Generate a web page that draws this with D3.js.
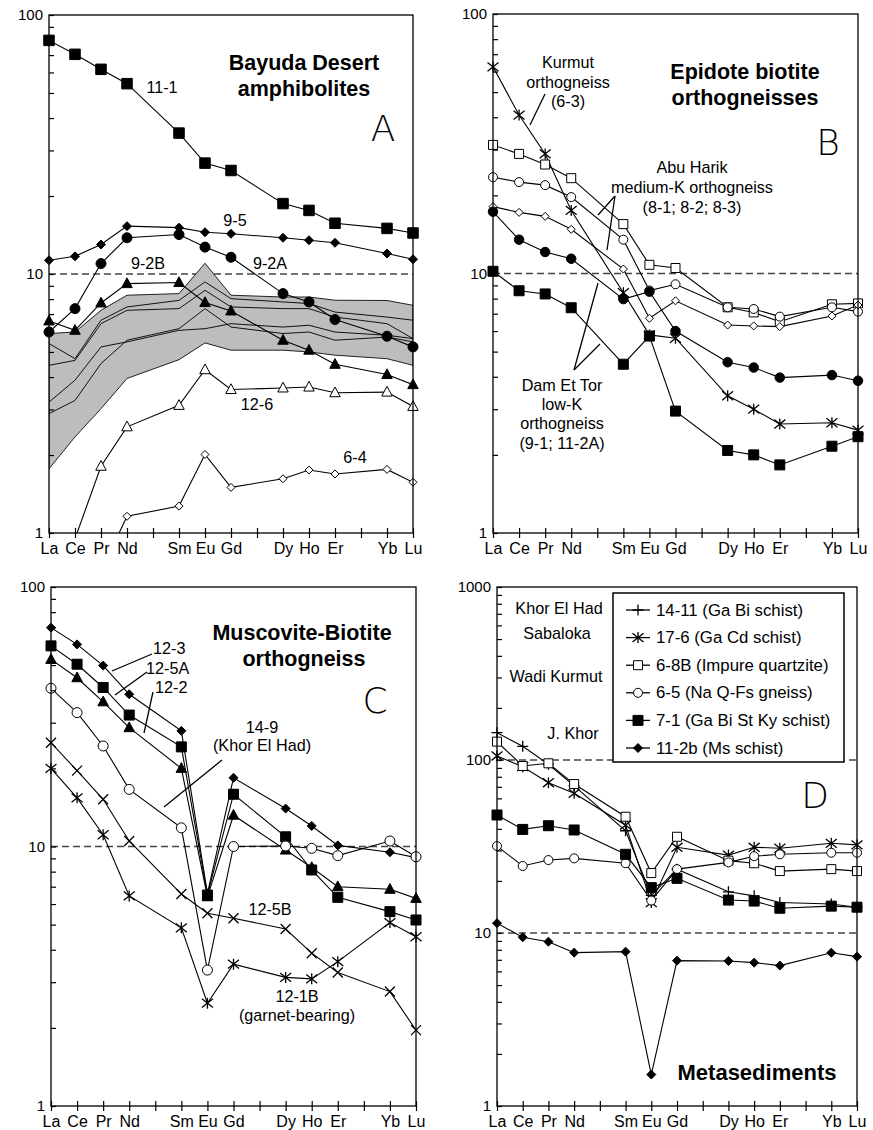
<!DOCTYPE html>
<html><head><meta charset="utf-8">
<script src="https://cdn.jsdelivr.net/npm/d3@7"></script>
<style>body{margin:0;background:#fff}svg{display:block}</style>
</head><body>
<script>
// ---------- DATA ----------
const ELEMENTS = ["La","Ce","Pr","Nd","Sm","Eu","Gd","Dy","Ho","Er","Yb","Lu"];
const ELEMENT_POS = [0,1,2,3,5,6,7,9,10,11,13,14];

// Panel A : Bayuda Desert amphibolites
const A_11_1 = [79.8,70.5,61.7,54.3,35.0,26.8,25.1,18.7,17.6,15.7,15.0,14.4];
const A_9_5  = [11.3,11.7,13.0,15.3,15.1,14.5,14.3,13.8,13.5,13.2,12.0,11.4];
const A_9_2A = [5.97,7.35,10.97,13.8,14.2,12.7,11.6,8.4,7.8,6.67,5.75,5.23];
const A_9_2B = [6.59,6.06,7.73,9.18,9.27,7.76,7.2,5.55,5.08,4.48,4.09,3.74];
const A_12_6 = [null,0.95,1.81,2.57,3.11,4.27,3.58,3.63,3.66,3.48,3.5,3.08];
const A_6_4  = [null,null,0.71,1.16,1.27,2.01,1.50,1.62,1.75,1.69,1.76,1.57];
const A_BAND_UPPER = [5.89,5.97,7.24,8.28,8.4,11.0,8.28,8.15,8.15,7.92,7.9,7.57];
const A_BAND_LOWER = [1.77,2.35,3.02,3.95,4.67,5.42,5.08,5.08,5.0,4.86,4.71,4.44];
const A_BAND_L1 = [5.39,4.71,6.63,7.46,7.91,9.32,8.03,7.8,7.69,7.13,6.82,6.63];
const A_BAND_L2 = [4.44,4.64,6.43,7.24,7.35,8.65,7.46,7.35,7.35,6.82,6.43,5.63];
const A_BAND_L3 = [3.2,3.89,5.23,5.47,6.06,6.15,6.43,6.24,6.34,5.97,5.8,5.63];
const A_BAND_L4 = [2.89,3.25,4.51,5.55,6.15,7.35,6.24,5.89,5.97,5.55,5.71,5.47];

// Panel B : Epidote biotite orthogneisses
const B_6_3    = [62.6,40.8,28.9,17.5,8.43,5.8,5.63,3.38,3.0,2.63,2.66,2.49];
const B_8_SQ   = [31.3,28.9,26.3,23.3,15.5,10.8,10.5,7.41,7.08,6.52,7.61,7.67];
const B_8_CI   = [23.5,22.5,21.9,19.7,13.5,8.6,9.09,7.41,7.3,6.82,7.41,7.13];
const B_8_DI   = [18.1,17.2,16.6,14.8,10.4,6.72,7.85,6.33,6.28,6.24,6.86,7.56];
const B_9_1    = [17.3,13.5,12.1,11.4,7.97,8.51,6.0,4.55,4.34,3.97,4.06,3.86];
const B_11_2A  = [10.2,8.58,8.34,7.38,4.47,5.74,2.95,2.08,2.0,1.83,2.16,2.35];

// Panel C : Muscovite-Biotite orthogneiss
const C_12_3  = [69.7,60.1,49.8,38.6,27.9,6.6,18.4,14.0,12.0,10.1,9.5,9.06];
const C_12_5A = [59.3,50.4,41.0,32.1,24.2,6.5,15.9,10.9,8.12,6.37,5.61,5.21];
const C_12_2  = [52.6,44.7,36.1,28.7,20.0,6.4,13.2,9.69,8.3,7.0,6.84,6.31];
const C_14_9  = [40.7,32.8,24.4,16.6,11.8,3.34,10.0,10.05,9.84,9.22,10.5,9.13];
const C_12_5B = [25.1,19.6,15.2,10.5,6.56,5.53,5.29,4.81,3.88,3.27,2.76,1.96];
const C_12_1B = [20.0,15.4,11.1,6.45,4.86,2.49,3.52,3.13,3.09,3.6,5.09,4.49];

// Panel D : Metasediments
const D_14_11 = [143.8,120.0,94.5,70.8,39.0,16.5,23.4,17.3,16.4,15.0,14.7,14.1];
const D_17_6  = [105.5,91.5,73.9,64.2,42.0,15.0,31.3,28.2,31.3,30.9,33.0,32.3];
const D_6_8B  = [127.7,92.3,95.7,72.6,47.0,22.2,36.0,26.2,25.3,22.8,23.4,22.8];
const D_6_5   = [31.8,24.4,26.4,27.0,25.3,15.4,23.4,25.6,27.8,28.5,29.1,29.1];
const D_7_1   = [48.1,39.7,41.7,39.4,28.5,18.3,20.7,15.5,15.3,13.9,14.3,14.1];
const D_11_2b = [11.4,9.45,8.91,7.7,7.8,1.52,6.92,6.89,6.74,6.48,7.69,7.3];

const D_LEGEND_LABELS = ["14-11 (Ga Bi schist)","17-6 (Ga Cd schist)","6-8B (Impure quartzite)",
  "6-5 (Na Q-Fs gneiss)","7-1 (Ga Bi St Ky schist)","11-2b (Ms schist)"];
const D_LOCALITIES = ["Khor El Had","Sabaloka","Wadi Kurmut","J. Khor"];

// ---------- DRAWING ----------
const W = 873, H = 1130;
const svg = d3.select("body").append("svg").attr("width", W).attr("height", H);
const FONT = "'Liberation Sans', Arial, sans-serif";
const LBL = 16.2;

function markerPath(type, s) {
  const h = s / 2;
  switch (type) {
    case "square": return `M${-h},${-h}H${h}V${h}H${-h}Z`;
    case "diamond": return `M0,${-h}L${h},0L0,${h}L${-h},0Z`;
    case "triangle": return `M0,${-h*1.15}L${h*1.05},${h*0.8}L${-h*1.05},${h*0.8}Z`;
    case "cross": return `M${-h},${-h}L${h},${h}M${-h},${h}L${h},${-h}`;
    case "asterisk": return `M${-h},${-h*0.8}L${h},${h*0.8}M${-h},${h*0.8}L${h},${-h*0.8}M0,${-h}L0,${h}`;
    case "plus": return `M${-h},0L${h},0M0,${-h}L0,${h}`;
  }
}
function drawMarker(g, type, size, filled, cx, cy) {
  if (type === "circle") {
    g.append("circle").attr("cx", cx).attr("cy", cy).attr("r", size / 2)
      .attr("fill", filled ? "#000" : "#fff").attr("stroke", "#000").attr("stroke-width", 1);
  } else {
    const line = (type === "cross" || type === "asterisk" || type === "plus");
    g.append("path").attr("d", markerPath(type, size))
      .attr("transform", `translate(${cx},${cy})`)
      .attr("fill", line ? "none" : (filled ? "#000" : "#fff"))
      .attr("stroke", "#000").attr("stroke-width", line ? 1.3 : 1);
  }
}

let clipId = 0;
function panel(cfg) {
  const x = d3.scaleLinear().domain([0, 14]).range([cfg.left, cfg.right]);
  const y = d3.scaleLog().domain(cfg.domain).range([cfg.bottom, cfg.top]);
  const g = svg.append("g");
  const id = "clip" + (clipId++);
  g.append("clipPath").attr("id", id).append("rect")
    .attr("x", cfg.left).attr("y", cfg.top)
    .attr("width", cfg.right - cfg.left).attr("height", cfg.bottom - cfg.top);

  cfg.dashed.forEach(v => {
    g.append("line").attr("x1", cfg.left).attr("x2", cfg.right)
      .attr("y1", y(v)).attr("y2", y(v))
      .attr("stroke", "#444").attr("stroke-width", 1.4).attr("stroke-dasharray", "7,4");
  });

  const plot = g.append("g").attr("clip-path", `url(#${id})`);
  const pts = vals => vals.map((v, i) => [ELEMENT_POS[i], v]).filter(d => d[1] != null);
  const lineGen = d3.line().x(d => x(d[0])).y(d => y(d[1]));

  if (cfg.band) {
    const area = d3.area().x((d, i) => x(ELEMENT_POS[i]))
      .y0((d, i) => y(cfg.band.lower[i])).y1((d, i) => y(cfg.band.upper[i]));
    plot.append("path").attr("d", area(cfg.band.upper)).attr("fill", "#bdbdbd")
      .attr("stroke", "#222").attr("stroke-width", 1);
    cfg.band.lines.forEach(l => {
      plot.append("path").attr("d", lineGen(pts(l))).attr("fill", "none")
        .attr("stroke", "#111").attr("stroke-width", 1);
    });
  }

  cfg.series.forEach(s => {
    plot.append("path").attr("d", lineGen(pts(s.values))).attr("fill", "none")
      .attr("stroke", "#000").attr("stroke-width", 1.1);
  });
  const mg = g.append("g");
  cfg.series.forEach(s => {
    pts(s.values).forEach(d => {
      if (d[1] >= cfg.domain[0]) drawMarker(mg, s.marker, s.size, s.filled, x(d[0]), y(d[1]));
    });
  });

  g.append("rect").attr("x", cfg.left).attr("y", cfg.top)
    .attr("width", cfg.right - cfg.left).attr("height", cfg.bottom - cfg.top)
    .attr("fill", "none").attr("stroke", "#000").attr("stroke-width", 1.3);

  const decades = [];
  let tickVals = [];
  for (let d = cfg.domain[0]; d <= cfg.domain[1]; d *= 10) {
    decades.push(d);
    if (d < cfg.domain[1]) for (let k = 1; k <= 9; k++) tickVals.push(d * k);
  }
  tickVals.push(cfg.domain[1]);
  const yAxis = d3.axisLeft(y).tickValues(tickVals).tickSize(-5).tickPadding(6)
    .tickFormat(v => decades.some(d => Math.abs(d - v) < 1e-9) ? d3.format("d")(v) : "");
  const ya = g.append("g").attr("transform", `translate(${cfg.left},0)`).call(yAxis);
  ya.select(".domain").remove();
  ya.selectAll("line").attr("stroke", "#000").attr("stroke-width", 1.2);
  ya.selectAll("text").attr("font-family", FONT).attr("font-size", 15).attr("fill", "#000");

  const xAxis = d3.axisBottom(x).tickValues(d3.range(15)).tickSize(5).tickPadding(5)
    .tickFormat(p => { const i = ELEMENT_POS.indexOf(p); return i >= 0 ? ELEMENTS[i] : ""; });
  const xa = g.append("g").attr("transform", `translate(0,${cfg.bottom})`).call(xAxis);
  xa.select(".domain").remove();
  xa.selectAll("line").attr("y1", -5).attr("y2", 5).attr("stroke", "#000").attr("stroke-width", 1.2);
  xa.selectAll("text").attr("font-family", FONT).attr("font-size", 16).attr("fill", "#000");

  return g;
}

function txt(g, s, x, y, opt = {}) {
  g.append("text").attr("x", x).attr("y", y).text(s)
    .attr("font-family", opt.family || FONT)
    .attr("font-size", opt.size || LBL)
    .attr("font-weight", opt.weight || "normal")
    .attr("text-anchor", opt.anchor || "middle")
    .attr("dominant-baseline", "central").attr("fill", "#000");
}
function seg(g, x1, y1, x2, y2) {
  g.append("line").attr("x1", x1).attr("y1", y1).attr("x2", x2).attr("y2", y2)
    .attr("stroke", "#000").attr("stroke-width", 1.3);
}
const BIG = { size: 36, family: "'DejaVu Sans', sans-serif", weight: 200 };
const TITLE = { size: 21.5, weight: "bold" };

// ----- Panel A -----
const gA = panel({
  left: 49, right: 413, top: 15, bottom: 533, domain: [1, 100], dashed: [10],
  band: { upper: A_BAND_UPPER, lower: A_BAND_LOWER, lines: [A_BAND_L1, A_BAND_L2, A_BAND_L3, A_BAND_L4] },
  series: [
    { values: A_11_1, marker: "square", size: 10.5, filled: true },
    { values: A_9_5, marker: "diamond", size: 9, filled: true },
    { values: A_9_2A, marker: "circle", size: 10, filled: true },
    { values: A_9_2B, marker: "triangle", size: 10, filled: true },
    { values: A_12_6, marker: "triangle", size: 10, filled: false },
    { values: A_6_4, marker: "diamond", size: 8, filled: false }
  ]
});
txt(gA, "Bayuda Desert", 304, 63, TITLE);
txt(gA, "amphibolites", 304, 89, TITLE);
txt(gA, "A", 383, 128, BIG);
txt(gA, "11-1", 162, 87);
txt(gA, "9-5", 235, 220);
txt(gA, "9-2B", 148, 263);
txt(gA, "9-2A", 270, 263);
txt(gA, "12-6", 257, 404);
txt(gA, "6-4", 355, 457);

// ----- Panel B -----
const gB = panel({
  left: 493, right: 858, top: 14, bottom: 533, domain: [1, 100], dashed: [10],
  series: [
    { values: B_6_3, marker: "asterisk", size: 11, filled: false },
    { values: B_8_SQ, marker: "square", size: 9, filled: false },
    { values: B_8_CI, marker: "circle", size: 9, filled: false },
    { values: B_8_DI, marker: "diamond", size: 8, filled: false },
    { values: B_9_1, marker: "circle", size: 9.5, filled: true },
    { values: B_11_2A, marker: "square", size: 10, filled: true }
  ]
});
txt(gB, "Kurmut", 568, 62);
txt(gB, "orthogneiss", 568, 82);
txt(gB, "(6-3)", 568, 101);
seg(gB, 545, 94, 530, 125);
txt(gB, "Epidote biotite", 745, 72, TITLE);
txt(gB, "orthogneisses", 745, 98, TITLE);
txt(gB, "B", 828, 142, BIG);
txt(gB, "Abu Harik", 692, 167);
txt(gB, "medium-K orthogneiss", 692, 187);
txt(gB, "(8-1; 8-2; 8-3)", 692, 207);
seg(gB, 615, 196, 598, 215);
seg(gB, 615, 196, 607, 250);
txt(gB, "Dam Et Tor", 562, 385);
txt(gB, "low-K", 562, 404);
txt(gB, "orthogneiss", 562, 423);
txt(gB, "(9-1; 11-2A)", 562, 443);
seg(gB, 574, 370, 598, 283);
seg(gB, 574, 370, 600, 344);

// ----- Panel C -----
const gC = panel({
  left: 51, right: 416, top: 587, bottom: 1106, domain: [1, 100], dashed: [10],
  series: [
    { values: C_12_3, marker: "diamond", size: 9, filled: true },
    { values: C_12_5A, marker: "square", size: 10, filled: true },
    { values: C_12_2, marker: "triangle", size: 10, filled: true },
    { values: C_14_9, marker: "circle", size: 10, filled: false },
    { values: C_12_5B, marker: "cross", size: 10, filled: false },
    { values: C_12_1B, marker: "asterisk", size: 11, filled: false }
  ]
});
txt(gC, "Muscovite-Biotite", 302, 633, TITLE);
txt(gC, "orthogneiss", 304, 659, TITLE);
txt(gC, "C", 375, 700, BIG);
txt(gC, "12-3", 153, 648, { anchor: "start" });
txt(gC, "12-5A", 146, 668, { anchor: "start" });
txt(gC, "12-2", 155, 687, { anchor: "start" });
seg(gC, 152, 654, 112, 671);
seg(gC, 147, 672, 115, 695);
seg(gC, 153, 692, 144, 733);
txt(gC, "14-9", 262, 727);
txt(gC, "(Khor El Had)", 262, 745);
seg(gC, 222, 760, 164, 807);
txt(gC, "12-5B", 270, 909);
txt(gC, "12-1B", 297, 996);
txt(gC, "(garnet-bearing)", 297, 1015);

// ----- Panel D -----
const dSeries = [
  { values: D_14_11, marker: "plus", size: 11, filled: false },
  { values: D_17_6, marker: "asterisk", size: 11, filled: false },
  { values: D_6_8B, marker: "square", size: 9, filled: false },
  { values: D_6_5, marker: "circle", size: 9, filled: false },
  { values: D_7_1, marker: "square", size: 10, filled: true },
  { values: D_11_2b, marker: "diamond", size: 9, filled: true }
];
const gD = panel({
  left: 497, right: 857, top: 587, bottom: 1106, domain: [1, 1000], dashed: [100, 10],
  series: dSeries
});
const locY = [608, 633, 676, 733], locX = [559, 557, 556, 573];
D_LOCALITIES.forEach((s, i) => txt(gD, s, locX[i], locY[i]));
txt(gD, "D", 815, 795, BIG);
txt(gD, "Metasediments", 757, 1072, { size: 22, weight: "bold" });
const lg = gD.append("g");
lg.append("rect").attr("x", 613).attr("y", 593).attr("width", 231).attr("height", 169)
  .attr("fill", "#fff").attr("stroke", "#000").attr("stroke-width", 1.5);
D_LEGEND_LABELS.forEach((lab, i) => {
  const yy = 610 + i * 27.6;
  seg(lg, 626, yy, 650, yy);
  const s = dSeries[i];
  drawMarker(lg, s.marker, s.size, s.filled, 638, yy);
  txt(lg, lab, 656, yy, { anchor: "start", size: 16.8 });
});
</script>
</body></html>
